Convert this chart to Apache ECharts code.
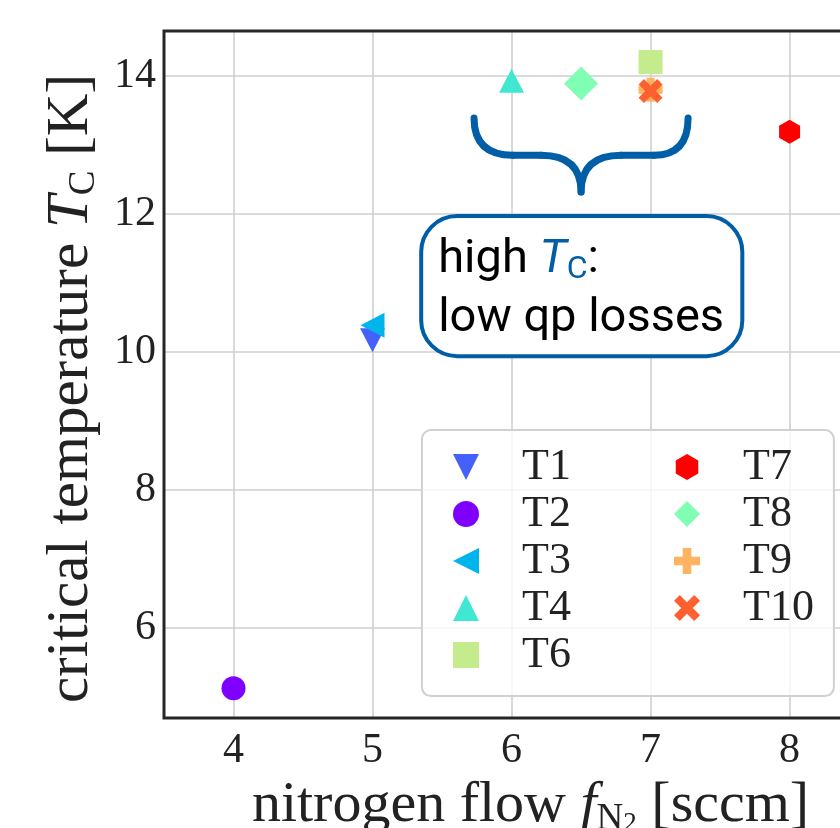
<!DOCTYPE html>
<html>
<head>
<meta charset="utf-8">
<script src="https://cdn.jsdelivr.net/npm/echarts@6/dist/echarts.min.js"></script>
<style>
html,body{margin:0;padding:0;background:#fff;overflow:hidden;}
#c{width:840px;height:828px;}
</style>
</head>
<body>
<div id="c"></div>
<script>
// ---- data ----
const seriesNames = ['T1','T2','T3','T4','T6','T7','T8','T9','T10'];
const nitrogenFlow = [5, 4, 5, 6, 7, 8, 6.5, 7, 7];
const criticalTemp = [10.17, 5.13, 10.39, 13.93, 14.2, 13.19, 13.89, 13.8, 13.78];
const xTickLabels = ['4','5','6','7','8'];
const yTickLabels = ['6','8','10','12','14'];
const legendLeftNames = ['T1','T2','T3','T4','T6'];
const legendRightNames = ['T7','T8','T9','T10'];

// ---- styles ----
const colors = ['#4462fa','#8000ff','#00b5eb','#40e8d2','#c4eb8c','#ff0000','#80ffb4','#ffb360','#ff6030'];
const downTri = 'path://M-1,-1L1,-1L0,1Z';
const leftTri = 'path://M1,-1L1,1L-1,0Z';
const hexPath = 'path://M0,-1L0.866,-0.5L0.866,0.5L0,1L-0.866,0.5L-0.866,-0.5Z';
const plusPath = 'path://M-1,-0.33L-0.33,-0.33L-0.33,-1L0.33,-1L0.33,-0.33L1,-0.33L1,0.33L0.33,0.33L0.33,1L-0.33,1L-0.33,0.33L-1,0.33Z';
const xPath = 'path://M-1,-0.55L-0.55,-1L0,-0.45L0.55,-1L1,-0.55L0.45,0L1,0.55L0.55,1L0,0.45L-0.55,1L-1,0.55L-0.45,0Z';
const symbols = [downTri,'circle',leftTri,'triangle','rect',hexPath,'diamond',plusPath,xPath];
const sizes = [[25,24],24,[24,25],[25,24],24,[21,24],[34,34],24,24];

const serif = 'Liberation Serif';
const chart = echarts.init(document.getElementById('c'), null, {renderer:'canvas'});

const series = seriesNames.map((n,i)=>({
  name:n, type:'scatter',
  data:[[nitrogenFlow[i], criticalTemp[i]]],
  symbol:symbols[i], symbolSize:sizes[i],
  itemStyle:{color:colors[i], opacity:1},
  emphasis:{disabled:true},
  z: 3 + i
}));

const legendCommon = {
  orient:'vertical', itemWidth:26, itemHeight:26, itemGap:3,
  textStyle:{fontFamily:serif, fontSize:44, color:'#222', padding:[0,0,0,38]},
  selectedMode:false, z:20
};

const mkRich = (fs)=>({
  n:{fontFamily:serif, fontSize:fs, color:'#222', lineHeight:64},
  i:{fontFamily:serif, fontSize:fs, fontStyle:'italic', color:'#222', lineHeight:64},
  s:{fontFamily:serif, fontSize:Math.round(fs*0.63), color:'#222', verticalAlign:'bottom', lineHeight:34},
  ss:{fontFamily:serif, fontSize:Math.round(fs*0.46), color:'#222', verticalAlign:'bottom', lineHeight:20}
});

chart.setOption({
  animation:false,
  backgroundColor:'#fff',
  grid:{left:164, top:31, width:709, height:687, show:true, borderColor:'#262626', borderWidth:3,
    backgroundColor:'transparent', z:10, containLabel:false, outerBoundsMode:'none'},
  xAxis:{
    type:'value', min:3.5, max:8.6, minInterval:1, maxInterval:1,
    axisLine:{show:false}, axisTick:{show:false},
    axisLabel:{fontFamily:serif, fontSize:42, color:'#222', margin:12, showMinLabel:false, showMaxLabel:false,
      formatter:v=>{const k=xTickLabels.indexOf(String(v)); return k>=0?xTickLabels[k]:'';}},
    splitLine:{show:true, showMinLine:false, showMaxLine:false, lineStyle:{color:'#cfcfcf', width:1.6}},
    name:'{n|nitrogen flow }{i|f}{s|N}{ss|2}{n| [sccm]}',
    nameLocation:'middle', nameGap:52,
    nameTextStyle:{fontFamily:serif, fontSize:58, color:'#222', rich:mkRich(58), padding:[0,0,0,24]}
  },
  yAxis:{
    type:'value', min:4.7, max:14.65, minInterval:2, maxInterval:2,
    axisLine:{show:false}, axisTick:{show:false},
    axisLabel:{fontFamily:serif, fontSize:42, color:'#222', margin:8, showMinLabel:false, showMaxLabel:false,
      formatter:v=>{const k=yTickLabels.indexOf(String(v)); return k>=0?yTickLabels[k]:'';}},
    splitLine:{show:true, showMinLine:false, showMaxLine:false, lineStyle:{color:'#cfcfcf', width:1.6}},
    name:'{n|critical temperature }{i|T}{s|C}{n| [K]}',
    nameLocation:'middle', nameGap:47, nameRotate:90,
    nameTextStyle:{fontFamily:serif, fontSize:59, color:'#222', rich:mkRich(59), padding:[0,28,0,0]}
  },
  legend:[
    Object.assign({}, legendCommon, {left:448, top:440, data:legendLeftNames}),
    Object.assign({}, legendCommon, {left:669, top:440, data:legendRightNames})
  ],
  series:series
});

// ---- annotations positioned from data coordinates ----
const P = (x,y)=>chart.convertToPixel({gridIndex:0},[x,y]);
const tip = P(6.5, 12.32);
const lEnd = P(5.73, 13.39);
const rEnd = P(7.27, 13.39);
const barY = P(6.5, 12.85)[1];
const cx = tip[0];
const braceStyle = {fill:null, stroke:'#005ea6', lineWidth:7, lineCap:'round', lineJoin:'round'};
const q = (x1,y1,cpx,cpy,x2,y2)=>({type:'bezierCurve', shape:{x1,y1,x2,y2,cpx1:cpx,cpy1:cpy}, style:braceStyle, z:30});
const l = (x1,y1,x2,y2)=>({type:'line', shape:{x1,y1,x2,y2}, style:braceStyle, z:30});
const boxTL = P(5.35, 11.97);
const boxBR = P(7.66, 9.94);
const legTL = P(5.355, 8.87);

chart.setOption({
  graphic:[
    q(lEnd[0], lEnd[1], lEnd[0], barY, lEnd[0]+39, barY),
    l(lEnd[0]+39, barY, cx-40, barY),
    q(cx-40, barY, cx, barY, cx, tip[1]),
    q(cx, tip[1], cx, barY, cx+40, barY),
    l(cx+40, barY, rEnd[0]-34, barY),
    q(rEnd[0]-34, barY, rEnd[0], barY, rEnd[0], rEnd[1]),
    {type:'rect', shape:{x:boxTL[0], y:boxTL[1], width:boxBR[0]-boxTL[0], height:boxBR[1]-boxTL[1], r:36},
      style:{fill:'#fff', stroke:'#005ea6', lineWidth:4}, z:30},
    {type:'text', x:boxTL[0]+17, y:boxTL[1]+70, z:31,
      style:{text:'{a|high }{t|T}{c|C}{a|:}', verticalAlign:'bottom', font:'47px Roboto',
        rich:{
          a:{fontFamily:'Roboto', fontSize:47, fill:'#000', lineHeight:52},
          t:{fontFamily:'Roboto', fontSize:47, fontStyle:'italic', fill:'#005ea6', lineHeight:52},
          c:{fontFamily:'Roboto', fontSize:32, fill:'#005ea6', verticalAlign:'bottom', lineHeight:30}
        }}},
    {type:'text', x:boxTL[0]+17, y:boxTL[1]+127, z:31,
      style:{text:'low qp losses', verticalAlign:'bottom', font:'47px Roboto', fill:'#000'}},
    {type:'rect', shape:{x:legTL[0], y:legTL[1], width:412, height:266, r:9},
      style:{fill:'rgba(255,255,255,0.8)', stroke:'#d0d0d0', lineWidth:2}, z:15}
  ]
});
</script>
</body>
</html>
